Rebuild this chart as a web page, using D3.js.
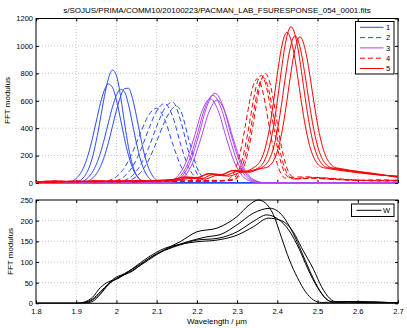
<!DOCTYPE html>
<html>
<head>
<meta charset="utf-8">
<script src="https://cdn.jsdelivr.net/npm/d3@7"></script>
<style>
  body { margin: 0; background: #fff; }
  svg { display: block; font-family: "Liberation Sans", Arial, Helvetica, sans-serif; }
  .tick text { font-size: 7.5px; fill: #000; }
  .tick line { stroke: #000; }
</style>
</head>
<body>
<svg id="chart" width="407" height="328"></svg>
<script>
// ticks and labels
var xTicks = [1.8, 1.9, 2.0, 2.1, 2.2, 2.3, 2.4, 2.5, 2.6, 2.7];
var topYTicks = [0, 200, 400, 600, 800, 1000, 1200];
var botYTicks = [0, 50, 100, 150, 200, 250];
var topLegend = ["1", "2", "3", "4", "5"];
var botLegend = ["W"];
var title = "s/SOJUS/PRIMA/COMM10/20100223/PACMAN_LAB_FSURESPONSE_054_0001.fits";

// band 1 : blue solid  ([wavelength, modulus])
var band1 = [
  [[1.80,2],[1.86,10],[1.88,4],[1.90,7],[1.92,46],[1.94,184],[1.95,310],[1.96,467],[1.97,630],[1.98,762],[1.99,824],[2.00,784],[2.01,637],[2.02,441],[2.03,260],[2.04,131],[2.05,56],[2.07,6],[2.09,1],[2.30,2],[2.70,1]],
  [[1.80,3],[1.86,6],[1.88,6],[1.90,33],[1.92,124],[1.93,209],[1.94,322],[1.95,452],[1.96,579],[1.97,677],[1.98,722],[1.99,698],[2.00,604],[2.01,468],[2.02,324],[2.03,201],[2.04,112],[2.05,55],[2.07,10],[2.09,1],[2.70,1]],
  [[1.80,2],[1.92,7],[1.94,34],[1.96,118],[1.97,194],[1.98,294],[1.99,411],[2.00,530],[2.01,629],[2.02,688],[2.03,691],[2.04,616],[2.05,484],[2.06,334],[2.07,203],[2.08,109],[2.09,51],[2.10,21],[2.12,3],[2.70,1]],
  [[1.80,2],[1.91,9],[1.93,41],[1.95,136],[1.96,218],[1.97,322],[1.98,440],[1.99,553],[2.00,640],[2.01,683],[2.02,665],[2.03,571],[2.04,431],[2.05,287],[2.06,168],[2.07,87],[2.08,39],[2.09,16],[2.11,2],[2.70,1]]
];
// band 2 : blue dashed
var band2 = [
  [[1.80,2],[1.96,4],[1.98,16],[2.00,46],[2.02,112],[2.04,224],[2.06,367],[2.08,494],[2.10,545],[2.12,463],[2.14,284],[2.16,125],[2.18,40],[2.20,9],[2.22,1],[2.70,1]],
  [[1.80,2],[1.98,4],[2.00,17],[2.02,49],[2.04,119],[2.06,238],[2.08,391],[2.10,525],[2.12,580],[2.14,483],[2.16,278],[2.18,111],[2.20,31],[2.22,6],[2.24,1],[2.70,1]],
  [[1.80,2],[2.00,5],[2.02,19],[2.04,55],[2.06,132],[2.08,257],[2.10,413],[2.12,545],[2.14,590],[2.16,451],[2.18,221],[2.20,70],[2.22,14],[2.24,1],[2.70,1]],
  [[1.80,2],[2.02,9],[2.04,28],[2.06,76],[2.08,167],[2.10,302],[2.12,448],[2.14,546],[2.15,560],[2.16,525],[2.18,316],[2.20,114],[2.22,25],[2.24,3],[2.70,1]]
];
// band 3 : purple solid
var band3 = [
  [[1.80,3],[2.125,3],[2.145,14],[2.165,55],[2.185,163],[2.205,353],[2.225,561],[2.245,655],[2.265,561],[2.285,353],[2.305,163],[2.325,55],[2.345,14],[2.365,3],[2.70,2]],
  [[1.80,3],[2.12,3],[2.14,13],[2.16,54],[2.18,159],[2.20,345],[2.22,548],[2.24,640],[2.26,548],[2.28,345],[2.30,159],[2.32,54],[2.34,13],[2.36,3],[2.70,2]],
  [[1.80,3],[2.113,2],[2.133,13],[2.153,52],[2.173,153],[2.193,331],[2.213,527],[2.233,615],[2.253,527],[2.273,331],[2.293,153],[2.313,52],[2.333,13],[2.353,2],[2.70,2]],
  [[1.80,3],[2.13,2],[2.15,13],[2.17,51],[2.19,151],[2.21,326],[2.23,518],[2.25,605],[2.27,518],[2.29,326],[2.31,151],[2.33,51],[2.35,13],[2.37,2],[2.70,2]]
];
// band 4 : red dashed
var band4 = [
  [[1.80,6],[1.85,12],[1.90,8],[1.95,14],[2.00,9],[2.05,15],[2.10,11],[2.15,16],[2.20,12],[2.25,18],[2.29,20],[2.30,35],[2.31,70],[2.32,144],[2.33,267],[2.34,431],[2.35,608],[2.36,747],[2.37,800],[2.38,747],[2.39,608],[2.40,431],[2.41,267],[2.42,144],[2.43,70],[2.44,40],[2.45,32],[2.50,38],[2.55,28],[2.60,20],[2.65,24],[2.70,18]],
  [[1.80,10],[1.85,6],[1.90,13],[1.95,8],[2.00,15],[2.05,10],[2.10,17],[2.15,12],[2.20,19],[2.24,14],[2.28,22],[2.29,30],[2.30,66],[2.31,141],[2.32,262],[2.33,423],[2.34,597],[2.35,733],[2.36,785],[2.37,733],[2.38,597],[2.39,423],[2.40,262],[2.41,141],[2.42,66],[2.43,38],[2.44,30],[2.48,42],[2.53,35],[2.58,25],[2.64,18],[2.70,22]],
  [[1.80,8],[1.85,14],[1.90,9],[1.95,12],[2.00,7],[2.05,13],[2.10,9],[2.15,15],[2.20,11],[2.24,20],[2.27,18],[2.28,28],[2.29,64],[2.30,137],[2.31,254],[2.32,410],[2.33,578],[2.34,710],[2.35,760],[2.36,710],[2.37,578],[2.38,410],[2.39,254],[2.40,137],[2.41,64],[2.42,36],[2.43,40],[2.47,45],[2.52,30],[2.57,22],[2.63,16],[2.70,14]],
  [[1.80,5],[1.85,9],[1.90,14],[1.95,10],[2.00,16],[2.05,8],[2.10,14],[2.15,10],[2.20,17],[2.25,13],[2.285,20],[2.295,32],[2.305,65],[2.315,139],[2.325,257],[2.335,415],[2.345,585],[2.355,719],[2.365,770],[2.375,719],[2.385,585],[2.395,415],[2.405,257],[2.415,139],[2.425,65],[2.435,36],[2.445,30],[2.49,34],[2.54,26],[2.60,20],[2.66,15],[2.70,16]]
];
// band 5 : red solid
var band5 = [
  [[1.80,9],[1.85,15],[1.90,10],[1.95,17],[2.00,12],[2.05,19],[2.10,15],[2.15,22],[2.18,38],[2.21,30],[2.24,62],[2.27,55],[2.30,84],[2.33,78],[2.35,106],[2.36,127],[2.37,176],[2.38,262],[2.39,403],[2.40,598],[2.41,821],[2.42,1017],[2.434,1140],[2.45,1003],[2.46,814],[2.47,606],[2.48,421],[2.49,282],[2.50,193],[2.51,142],[2.52,117],[2.54,105],[2.60,80],[2.65,60],[2.70,45]],
  [[1.80,12],[1.85,7],[1.90,15],[1.95,9],[2.00,16],[2.05,11],[2.10,20],[2.14,26],[2.17,45],[2.20,40],[2.23,70],[2.26,62],[2.29,92],[2.32,86],[2.34,110],[2.35,131],[2.36,173],[2.37,256],[2.38,391],[2.39,579],[2.40,793],[2.41,982],[2.424,1100],[2.44,968],[2.45,787],[2.46,587],[2.47,409],[2.48,275],[2.49,189],[2.50,140],[2.51,116],[2.53,104],[2.58,82],[2.64,62],[2.70,50]],
  [[1.80,7],[1.85,13],[1.90,8],[1.95,15],[2.00,10],[2.05,17],[2.10,13],[2.15,20],[2.19,34],[2.22,28],[2.25,56],[2.28,50],[2.31,80],[2.34,88],[2.36,110],[2.37,130],[2.38,171],[2.39,251],[2.40,382],[2.41,565],[2.42,772],[2.43,956],[2.444,1074],[2.46,942],[2.47,766],[2.48,572],[2.49,400],[2.50,270],[2.51,186],[2.52,139],[2.53,116],[2.55,104],[2.60,85],[2.65,66],[2.70,40]],
  [[1.80,10],[1.85,6],[1.90,12],[1.95,8],[2.00,14],[2.05,9],[2.10,17],[2.14,24],[2.17,42],[2.20,36],[2.23,66],[2.26,58],[2.29,90],[2.32,82],[2.35,102],[2.372,112],[2.382,130],[2.392,170],[2.402,251],[2.412,381],[2.422,562],[2.432,769],[2.442,951],[2.456,1067],[2.472,938],[2.482,763],[2.492,570],[2.502,398],[2.512,269],[2.522,186],[2.532,139],[2.542,115],[2.56,104],[2.61,78],[2.66,58],[2.70,48]]
];
// W : black, lower panel
var wCurves = [
  [[1.80,0],[1.90,0],[1.92,2],[1.94,10],[1.96,28],[1.98,47],[2.00,60],[2.04,80],[2.08,105],[2.12,130],[2.16,150],[2.20,173],[2.25,182],[2.30,210],[2.33,238],[2.353,250],[2.37,243],[2.39,215],[2.41,160],[2.43,105],[2.45,62],[2.47,28],[2.49,8],[2.51,2],[2.55,3],[2.60,2],[2.70,1]],
  [[1.80,0],[1.91,0],[1.93,3],[1.95,15],[1.97,35],[1.99,57],[2.02,72],[2.06,95],[2.10,120],[2.14,137],[2.18,150],[2.22,160],[2.26,167],[2.30,190],[2.34,218],[2.382,230],[2.41,215],[2.44,168],[2.46,125],[2.48,80],[2.50,40],[2.52,12],[2.54,3],[2.58,4],[2.63,2],[2.70,1]],
  [[1.80,0],[1.92,0],[1.94,4],[1.96,22],[1.98,45],[2.00,60],[2.04,78],[2.08,108],[2.12,128],[2.16,142],[2.20,153],[2.25,157],[2.30,173],[2.34,198],[2.374,214],[2.40,205],[2.43,175],[2.455,130],[2.475,85],[2.50,38],[2.52,12],[2.54,3],[2.58,4],[2.70,1]],
  [[1.80,0],[1.90,0],[1.92,3],[1.94,14],[1.96,38],[1.98,52],[2.00,58],[2.04,84],[2.08,112],[2.12,133],[2.16,143],[2.20,149],[2.25,153],[2.30,165],[2.34,185],[2.378,206],[2.41,200],[2.44,172],[2.46,135],[2.49,82],[2.51,40],[2.53,12],[2.55,3],[2.60,4],[2.70,1]]
];

var bands = [band1, band2, band3, band4, band5];
var bandStyle = [
  {color: "#2a48ff", dash: null},
  {color: "#2a48ff", dash: "5,3"},
  {color: "#b244f2", dash: null},
  {color: "#ff0000", dash: "5,3"},
  {color: "#ff0000", dash: null}
];

var svg = d3.select("#chart");

var x = d3.scaleLinear().domain([1.8, 2.7]).range([36, 398]);
var yTop = d3.scaleLinear().domain([0, 1200]).range([183, 18.5]);
var yBot = d3.scaleLinear().domain([0, 250]).range([303.3, 200]);

function drawFrame(y, yTicks, showX, id) {
  var g = svg.append("g");
  var x0 = x.range()[0], x1 = x.range()[1];
  var y0 = y.range()[0], y1 = y.range()[1];

  // dotted grid
  g.selectAll(".gx").data(xTicks.slice(1, -1)).enter().append("line")
   .attr("x1", d => x(d)).attr("x2", d => x(d))
   .attr("y1", y0).attr("y2", y1)
   .attr("stroke", "#b8b8b8").attr("stroke-width", 0.8).attr("stroke-dasharray", "1,2");
  g.selectAll(".gy").data(yTicks.slice(1, -1)).enter().append("line")
   .attr("x1", x0).attr("x2", x1)
   .attr("y1", d => y(d)).attr("y2", d => y(d))
   .attr("stroke", "#b8b8b8").attr("stroke-width", 0.8).attr("stroke-dasharray", "1,2");

  // ticks point inward on all four sides
  g.append("g").attr("transform", "translate(0," + y0 + ")")
   .call(d3.axisBottom(x).tickValues(xTicks).tickSize(-3).tickPadding(5)
     .tickFormat(showX ? d3.format("") : () => ""))
   .call(a => a.select(".domain").remove());
  g.append("g").attr("transform", "translate(0," + y1 + ")")
   .call(d3.axisTop(x).tickValues(xTicks).tickSize(-3).tickFormat(() => ""))
   .call(a => a.select(".domain").remove());
  g.append("g").attr("transform", "translate(" + x0 + ",0)")
   .call(d3.axisLeft(y).tickValues(yTicks).tickSize(-3).tickPadding(3).tickFormat(d3.format("d")))
   .call(a => a.select(".domain").remove());
  g.append("g").attr("transform", "translate(" + x1 + ",0)")
   .call(d3.axisRight(y).tickValues(yTicks).tickSize(-3).tickFormat(() => ""))
   .call(a => a.select(".domain").remove());

  g.append("rect")
   .attr("x", x0).attr("y", y1)
   .attr("width", x1 - x0).attr("height", y0 - y1)
   .attr("fill", "none").attr("stroke", "#000").attr("stroke-width", 1);

  svg.append("clipPath").attr("id", id)
   .append("rect")
   .attr("x", x0).attr("y", y1 - 1)
   .attr("width", x1 - x0).attr("height", y0 - y1 + 1);

  return svg.append("g").attr("clip-path", "url(#" + id + ")");
}

// upper panel
var topPlot = drawFrame(yTop, topYTicks, false, "clipTop");
var lineTop = d3.line().x(d => x(d[0])).y(d => yTop(d[1])).curve(d3.curveMonotoneX);

bands.forEach(function(band, i) {
  topPlot.selectAll(".band" + i)
   .data(band)
   .enter()
   .append("path")
   .attr("class", "band" + i)
   .attr("d", lineTop)
   .attr("fill", "none")
   .attr("stroke", bandStyle[i].color)
   .attr("stroke-width", 1)
   .attr("stroke-dasharray", bandStyle[i].dash);
});

// lower panel
var botPlot = drawFrame(yBot, botYTicks, true, "clipBot");
var lineBot = d3.line().x(d => x(d[0])).y(d => yBot(d[1])).curve(d3.curveMonotoneX);

botPlot.selectAll(".w")
 .data(wCurves)
 .enter()
 .append("path")
 .attr("class", "w")
 .attr("d", lineBot)
 .attr("fill", "none")
 .attr("stroke", "#000")
 .attr("stroke-width", 1);

// title and axis labels
svg.append("text")
 .attr("x", 217).attr("y", 12.5)
 .attr("text-anchor", "middle")
 .style("font-size", "8px")
 .text(title);

svg.append("text")
 .attr("transform", "translate(10,100.5)rotate(-90)")
 .attr("text-anchor", "middle")
 .style("font-size", "8px")
 .text("FFT modulus");

svg.append("text")
 .attr("transform", "translate(12.5,251.5)rotate(-90)")
 .attr("text-anchor", "middle")
 .style("font-size", "8px")
 .text("FFT modulus");

svg.append("text")
 .attr("x", 217).attr("y", 324)
 .attr("text-anchor", "middle")
 .style("font-size", "8px")
 .text("Wavelength / \u00b5m");

// legends
var legTop = svg.append("g");
legTop.append("rect")
 .attr("x", 355.5).attr("y", 21.5).attr("width", 38.5).attr("height", 52.5)
 .attr("fill", "#fff").attr("stroke", "#000").attr("stroke-width", 1);
topLegend.forEach(function(name, i) {
  var ly = 27.3 + i * 10.3;
  legTop.append("line")
   .attr("x1", 360).attr("x2", 383.5).attr("y1", ly).attr("y2", ly)
   .attr("stroke", bandStyle[i].color).attr("stroke-width", 1)
   .attr("stroke-dasharray", bandStyle[i].dash);
  legTop.append("text")
   .attr("x", 386).attr("y", ly + 2.7)
   .style("font-size", "7.5px")
   .text(name);
});

var legBot = svg.append("g");
legBot.append("rect")
 .attr("x", 351.5).attr("y", 204).attr("width", 42.5).attr("height", 12.5)
 .attr("fill", "#fff").attr("stroke", "#000").attr("stroke-width", 1);
botLegend.forEach(function(name, i) {
  var ly = 210.3 + i * 10.3;
  legBot.append("line")
   .attr("x1", 356.5).attr("x2", 381.5).attr("y1", ly).attr("y2", ly)
   .attr("stroke", "#000").attr("stroke-width", 1);
  legBot.append("text")
   .attr("x", 383).attr("y", ly + 2.7)
   .style("font-size", "7.5px")
   .text(name);
});
</script>
</body>
</html>
